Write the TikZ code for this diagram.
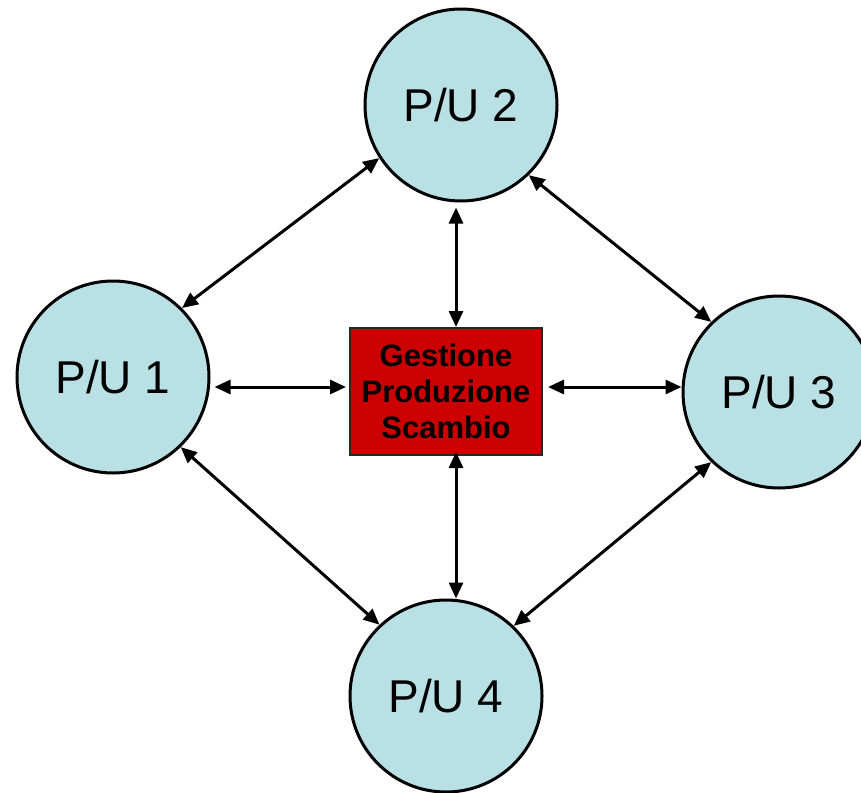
\documentclass[tikz,border=0pt]{standalone}
\usepackage{fontspec}
\setmainfont{Liberation Sans}
\usetikzlibrary{arrows.meta}
\definecolor{pubg}{RGB}{185,224,228}
\definecolor{boxred}{RGB}{204,0,0}
\tikzset{
  pu/.style={circle, draw=black, line width=3pt, fill=pubg, minimum size=192pt, inner sep=0pt,
    font=\fontsize{46}{55}\selectfont},
  centrebox/.style={rectangle, draw=black!85, line width=2pt, fill=boxred, minimum width=192pt,
    minimum height=127pt, inner sep=0pt, align=center, font=\fontsize{31}{36}\selectfont\bfseries},
  link/.style={line width=3pt, {Triangle[length=16pt,width=14pt]}-{Triangle[length=16pt,width=14pt]}}
}
\begin{document}
\begin{tikzpicture}[x=1pt,y=-1pt]
\path[use as bounding box] (0,0) rectangle (861,792);
\clip (0,0) rectangle (861,792);
\node[pu] (c2) at (461,105) {P/U 2};
\node[pu] (c1) at (113,377) {P/U 1};
\node[pu] (c3) at (779,392) {P/U 3};
\node[pu] (c4) at (446,696) {P/U 4};
\node[centrebox] (box) at (446,391.5) {Gestione\\Produzione\\Scambio};
\draw[link] (c1.45) -- (c2.213);
\draw[link] (c2.-46.6) -- (c3.134);
\draw[link] (c3.226) -- (c4.46.6);
\draw[link] (c1.-46) -- (c4.133);
\draw[link] ([xshift=4pt,yshift=4.5pt]box.west -| c1.east) -- ([xshift=-3pt,yshift=4.5pt]box.west);
\draw[link] ([xshift=5pt,yshift=4.5pt]box.east) -- ([yshift=4.5pt]box.east -| c3.west);
\draw[link] ([xshift=10pt]box.north) -- ([xshift=10pt,yshift=-5pt]box.north |- c2.south);
\draw[link] ([xshift=10pt,yshift=4pt]box.south) -- ([xshift=10pt]box.south |- c4.north);
\end{tikzpicture}
\end{document}
